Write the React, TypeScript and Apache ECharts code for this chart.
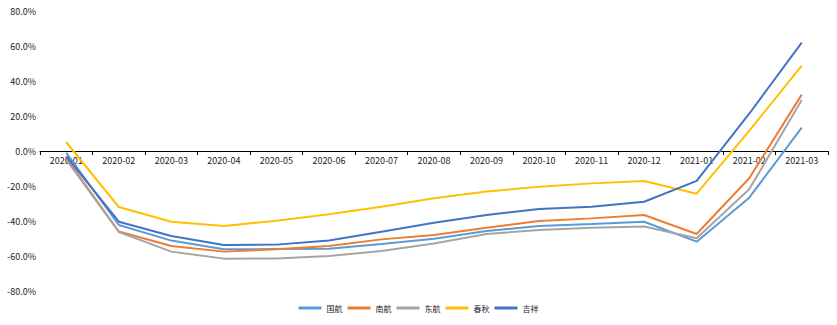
import React, { useEffect, useRef } from "react";
import * as echarts from "echarts";

const categories = [
  "2020-01", "2020-02", "2020-03", "2020-04", "2020-05", "2020-06", "2020-07", "2020-08",
  "2020-09", "2020-10", "2020-11", "2020-12", "2021-01", "2021-02", "2021-03",
];

const guohang = [-1, -42.3, -51.2, -56.2, -56, -55.8, -53.1, -50.1, -45.7, -42.9, -41.7, -40.4, -51.8, -26.7, 13.3];
const nanhang = [-4, -46, -54.3, -57.5, -56.2, -54.3, -50.5, -48, -43.8, -40, -38.5, -36.6, -47.4, -15.6, 32.2];
const donghang = [-5, -46.3, -57.5, -61.5, -61.4, -60, -57.1, -52.8, -47.4, -45.1, -43.8, -43.2, -49.9, -21.9, 29.1];
const chunqiu = [5, -32, -40.4, -42.9, -39.8, -36.2, -31.8, -27, -23.2, -20.4, -18.5, -17.1, -24.4, 11.5, 48.8];
const jixiang = [-3, -40.4, -48.6, -53.7, -53.5, -51.2, -46.1, -41, -36.6, -33.1, -31.8, -29, -17.1, 21.3, 61.9];

const seriesNames = ["国航", "南航", "东航", "春秋", "吉祥"];
const seriesColors = ["#5B9BD5", "#ED7D31", "#A5A5A5", "#FFC000", "#4472C4"];
const seriesData = [guohang, nanhang, donghang, chunqiu, jixiang];

const yTicks = { min: -80, max: 80, interval: 20 };

export default function App() {
  const ref = useRef<HTMLDivElement>(null);
  useEffect(() => {
    if (!ref.current) return;
    const chart = echarts.init(ref.current, undefined, { renderer: "svg" });
    const font = "'Noto Sans CJK SC', 'Noto Sans', sans-serif";
    const top = 11;
    const bottom = 34;
    const plotH = 325 - top - bottom;
    const zeroOffset = plotH * (0 - yTicks.min) / (yTicks.max - yTicks.min);
    chart.setOption({
      animation: false,
      backgroundColor: "#ffffff",
      grid: { left: 40, right: 9, top, bottom, containLabel: false },
      legend: {
        bottom: 8,
        left: "center",
        itemWidth: 23,
        itemHeight: 3,
        itemGap: 5,
        icon: "rect",
        textStyle: { fontSize: 8, color: "#222", fontFamily: font },
        data: seriesNames,
      },
      xAxis: {
        type: "category",
        data: categories,
        boundaryGap: true,
        position: "bottom",
        offset: -zeroOffset,
        axisLine: { onZero: false, lineStyle: { color: "#000", width: 1 } },
        axisTick: { show: true, length: 4, inside: false, lineStyle: { color: "#000" } },
        axisLabel: { fontSize: 9, color: "#222", fontFamily: font, margin: 5, interval: 0 },
        splitLine: { show: false },
      },
      yAxis: {
        type: "value",
        min: yTicks.min,
        max: yTicks.max,
        interval: yTicks.interval,
        axisLine: { show: false },
        axisTick: { show: false },
        splitLine: { show: false },
        axisLabel: {
          fontSize: 9,
          color: "#222",
          fontFamily: font,
          margin: 4,
          formatter: (v: number) => v.toFixed(1) + "%",
        },
      },
      series: seriesNames.map((name, i) => ({
        name,
        type: "line",
        data: seriesData[i],
        symbol: "none",
        smooth: false,
        lineStyle: { color: seriesColors[i], width: 2 },
        itemStyle: { color: seriesColors[i] },
      })),
    });
    return () => chart.dispose();
  }, []);
  return <div ref={ref} style={{ width: 837, height: 325, position: "absolute", left: 0, top: 0 }} />;
}
